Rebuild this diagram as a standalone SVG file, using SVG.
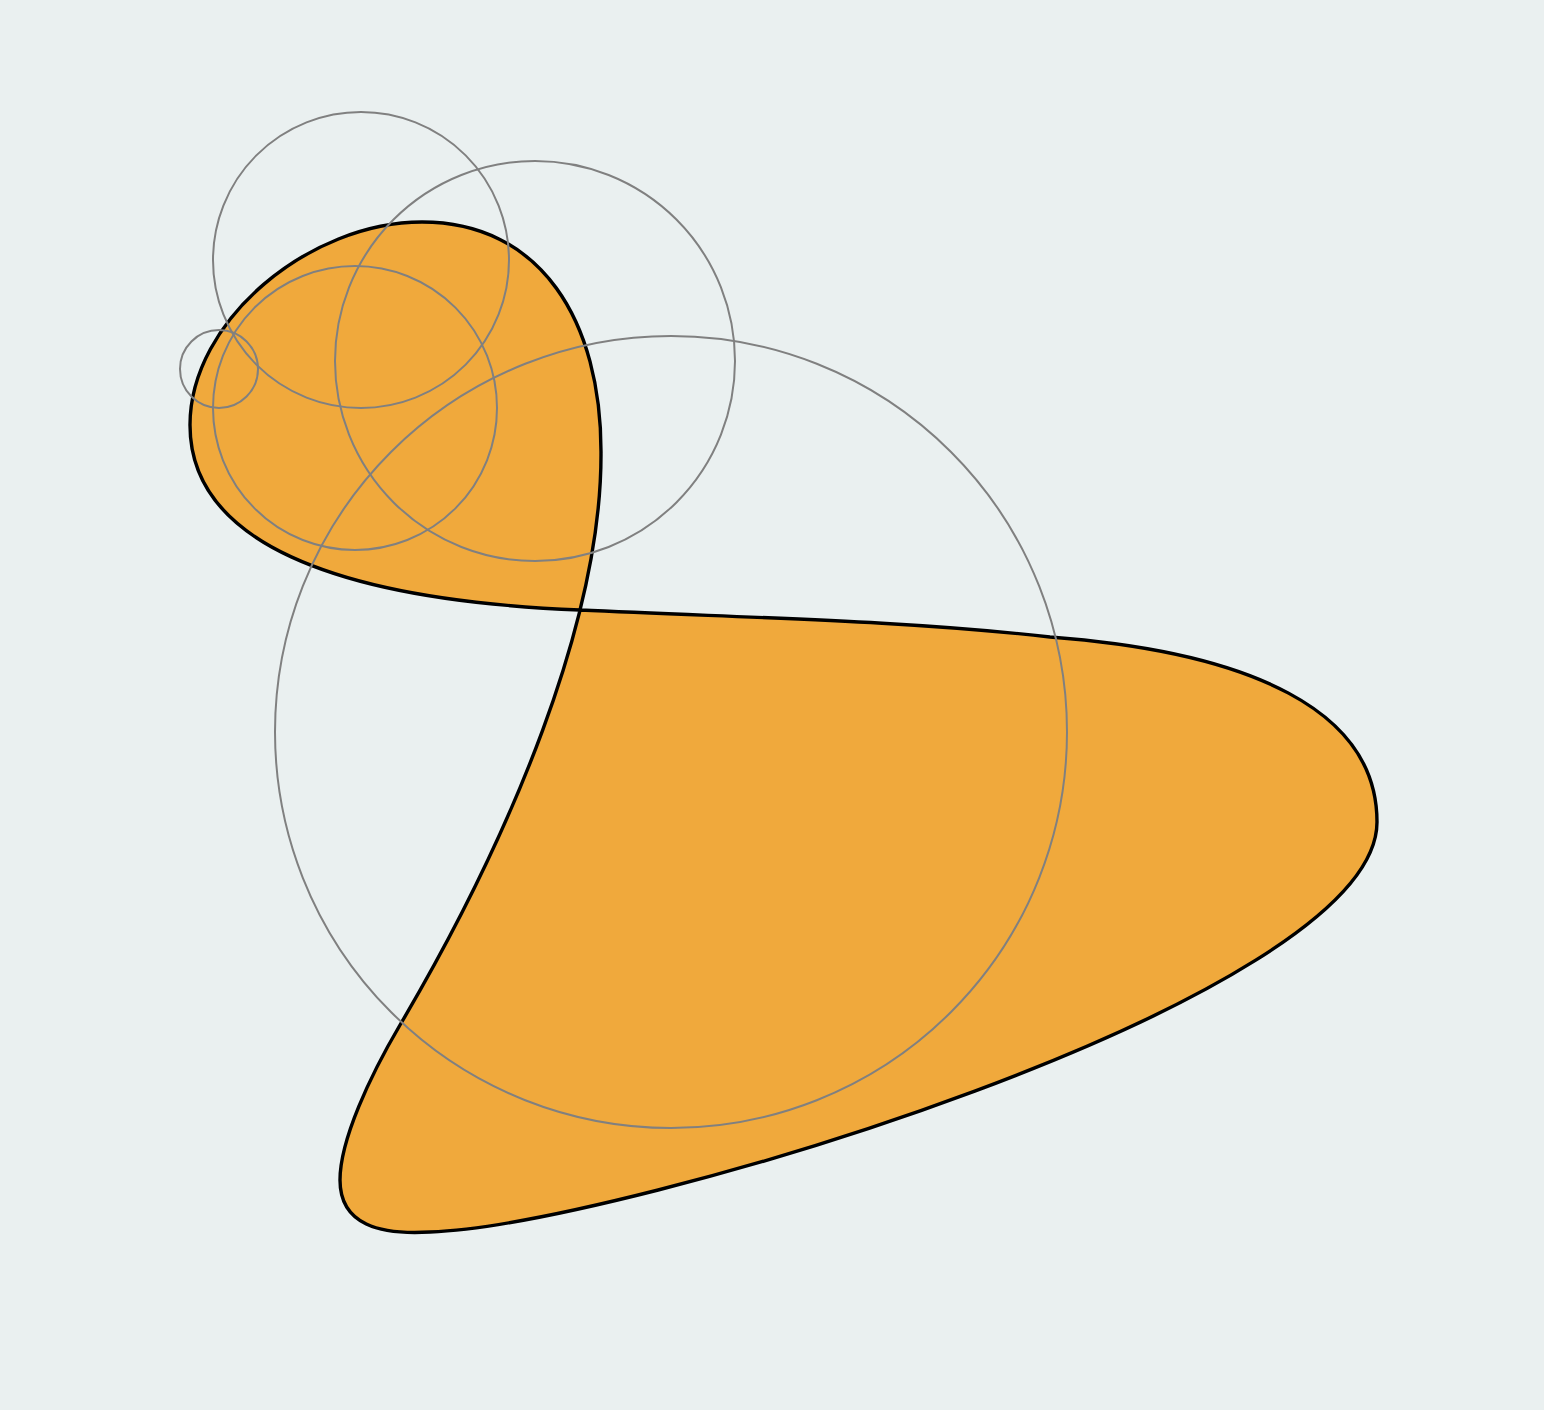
<svg xmlns="http://www.w3.org/2000/svg" width="1544" height="1410" viewBox="0 0 1544 1410">
<style>
.shape{fill:#f0a93c;stroke:#000;stroke-width:3.4;stroke-linejoin:round}
.c{fill:none;stroke:#808080;stroke-width:2}
</style>
<rect width="1544" height="1410" fill="#eaf0f0"/>
<path class="shape" d="M422,222 C540,222 602,320 601,455 C601,620 512,835 400,1025 C370,1076 340,1140 340,1180 C340,1225 380,1235 430,1232 C620,1225 1377,1000 1377,822 C1377,710 1250,652 1050,637 C900,620 750,618 580,610 C330,600 190,540 190,425 C190,320 310,222 422,222 Z"/>
<g id="circles">
<circle class="c" cx="361" cy="260" r="148"/>
<circle class="c" cx="535" cy="361" r="200"/>
<circle class="c" cx="355" cy="408" r="142"/>
<circle class="c" cx="219" cy="369" r="39"/>
<circle class="c" cx="671" cy="732" r="396"/>
</g>
</svg>
